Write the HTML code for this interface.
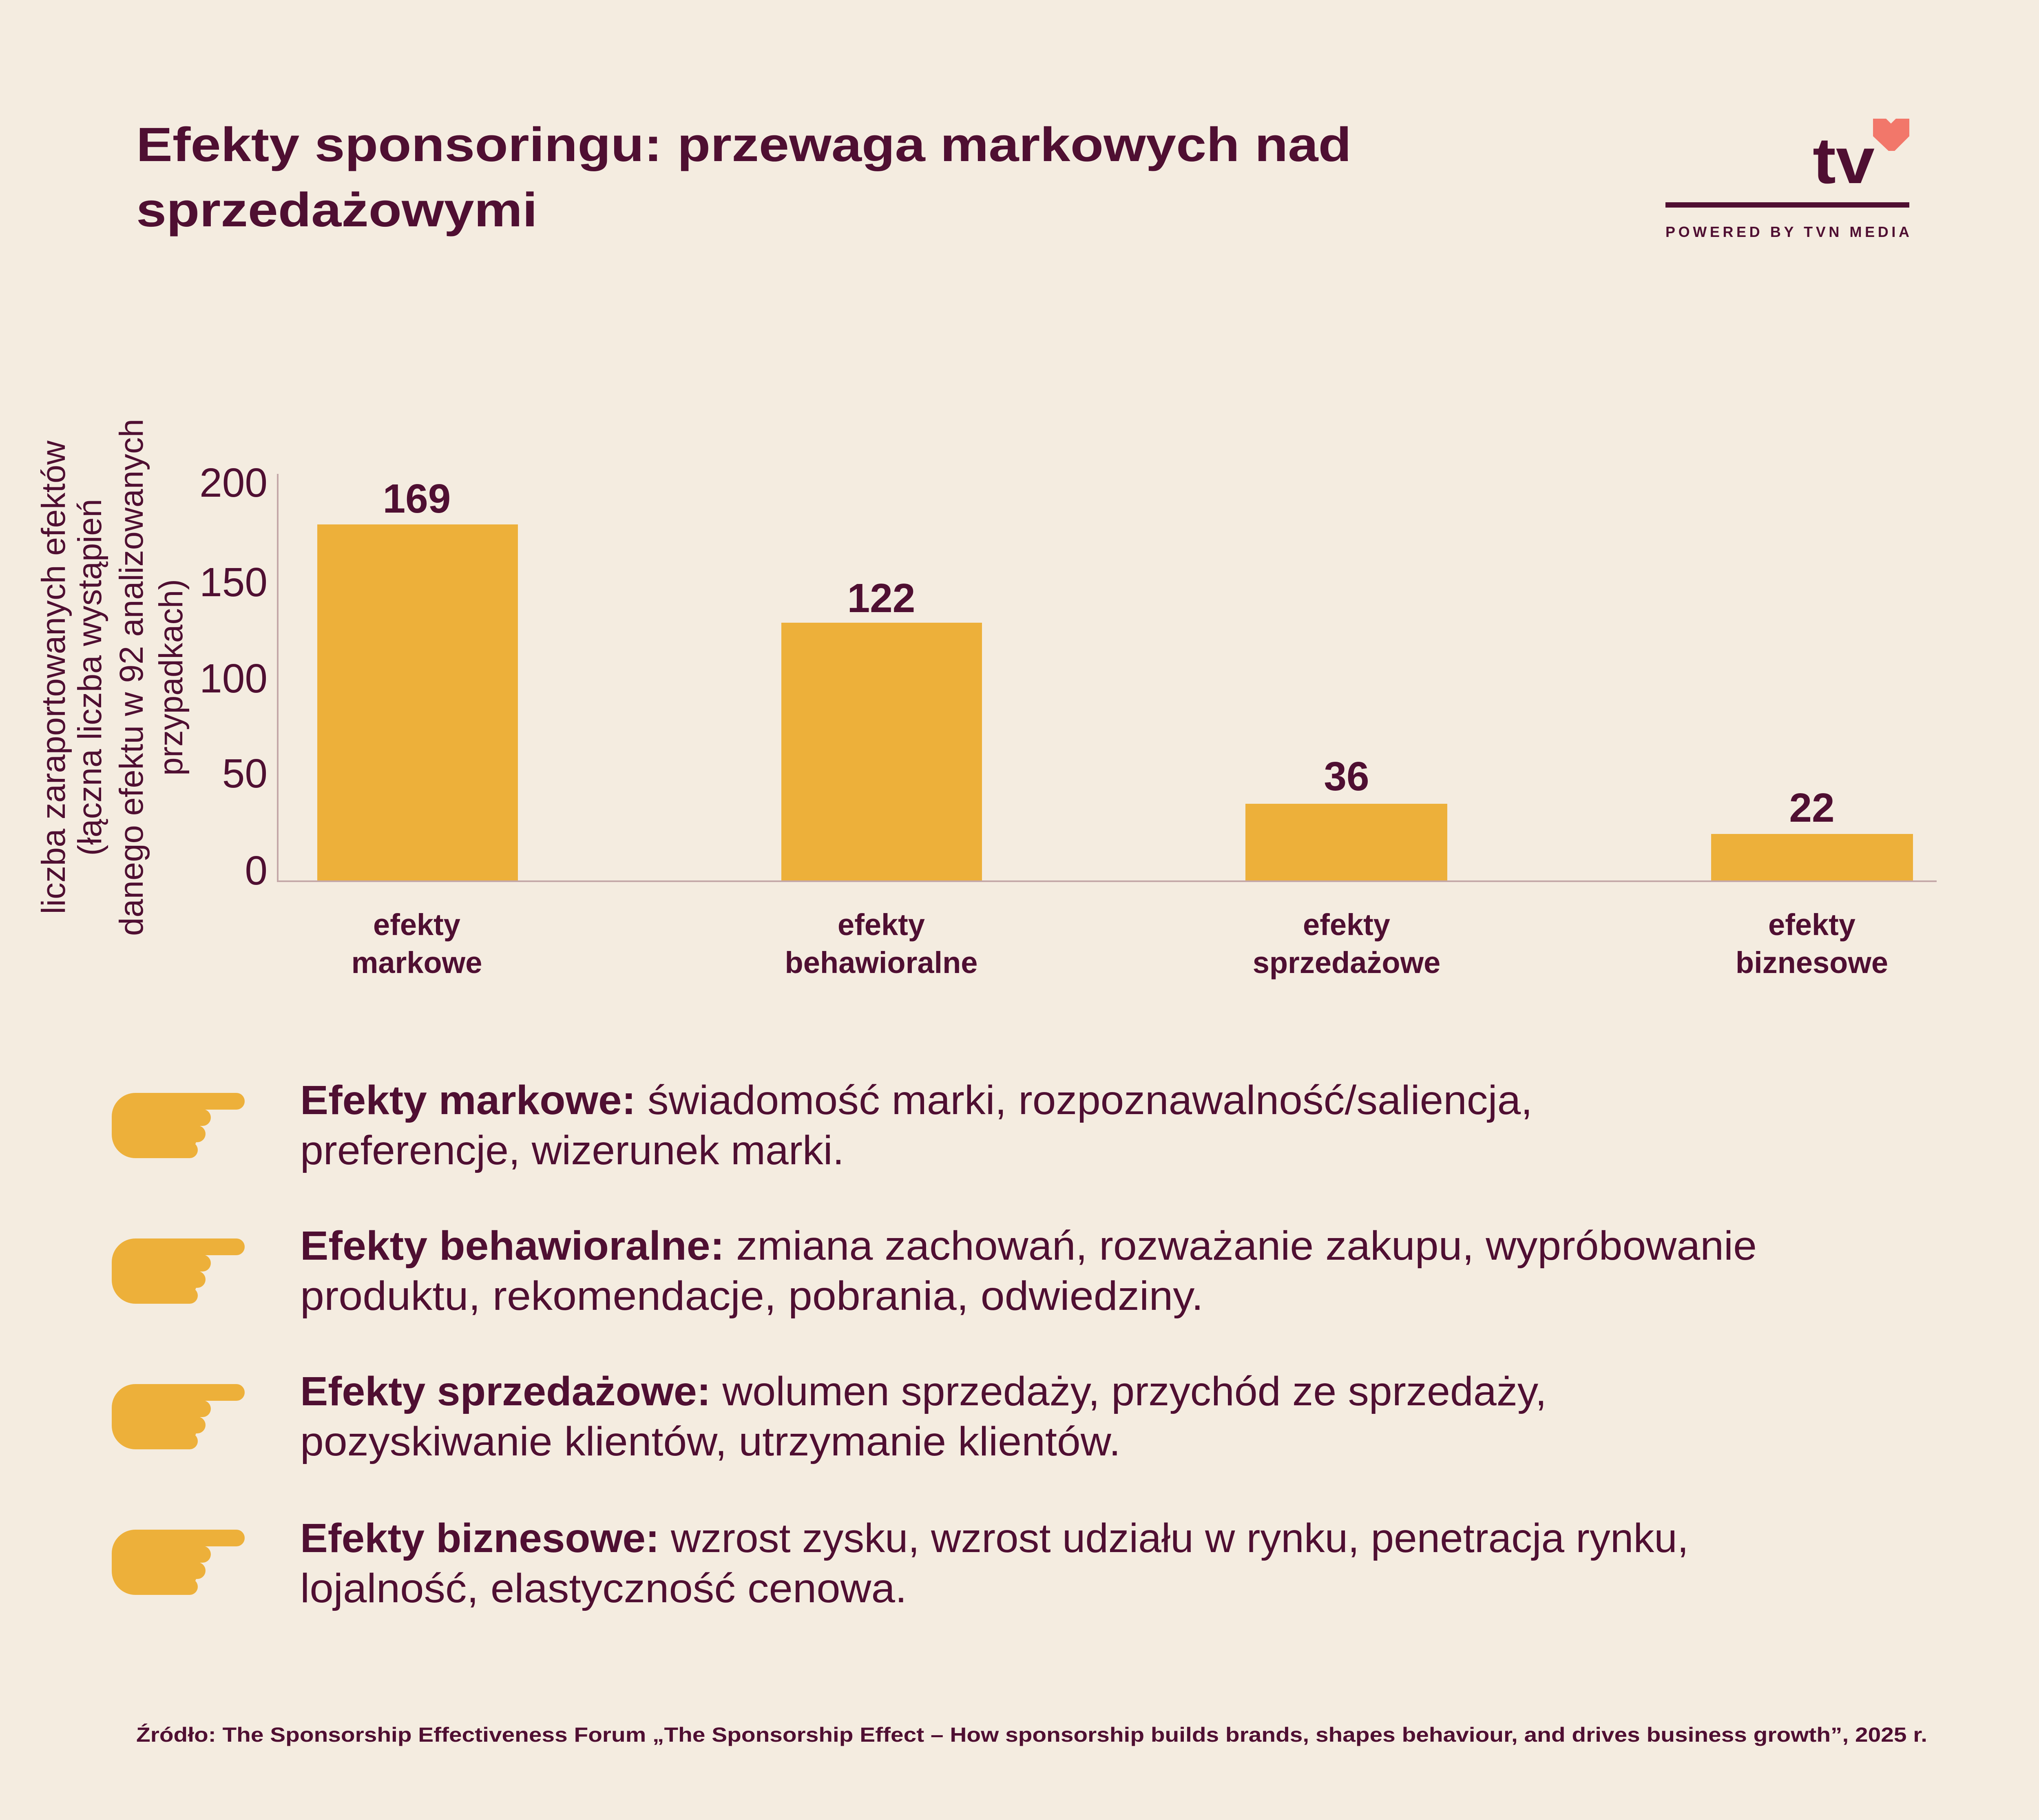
<!DOCTYPE html>
<html><head><meta charset="utf-8"><style>html,body{margin:0;padding:0;background:#f4ece0}svg{display:block}</style></head>
<body>
<svg width="5041" height="4463" viewBox="0 0 5041 4463" xmlns="http://www.w3.org/2000/svg" font-family="'Liberation Sans', sans-serif" fill="#4f0f32">
<rect width="5041" height="4463" fill="#f4ece0"/>
<!-- title -->
<text x="334" y="395" font-size="118" font-weight="bold" textLength="2980" lengthAdjust="spacingAndGlyphs">Efekty sponsoringu: przewaga markowych nad</text>
<text x="334" y="555" font-size="118" font-weight="bold" textLength="984" lengthAdjust="spacingAndGlyphs">sprzedażowymi</text>
<!-- logo -->
<text x="4445" y="449" font-size="160" font-weight="bold" textLength="152" lengthAdjust="spacingAndGlyphs">tv</text>
<polygon fill="#f2776a" points="4593,291 4625,291 4637,303 4649,291 4682,291 4682,334 4646,370 4631,370 4593,334"/>
<rect x="4084" y="496" width="598" height="13"/>
<text x="4084" y="581" font-size="36" font-weight="bold" textLength="598" lengthAdjust="spacing">POWERED BY TVN MEDIA</text>
<!-- y axis title -->
<g font-size="82" text-anchor="middle">
<text transform="translate(159,1661) rotate(-90)" textLength="1161" lengthAdjust="spacingAndGlyphs">liczba zaraportowanych efektów</text>
<text transform="translate(248,1661) rotate(-90)" textLength="875" lengthAdjust="spacingAndGlyphs">(łączna liczba wystąpień</text>
<text transform="translate(350,1661) rotate(-90)" textLength="1268" lengthAdjust="spacingAndGlyphs">danego efektu w 92 analizowanych</text>
<text transform="translate(447,1661) rotate(-90)" textLength="482" lengthAdjust="spacingAndGlyphs">przypadkach)</text>
</g>
<!-- ticks -->
<g font-size="100" text-anchor="end">
<text x="656" y="1218">200</text>
<text x="656" y="1462">150</text>
<text x="656" y="1698">100</text>
<text x="656" y="1931">50</text>
<text x="656" y="2169">0</text>
</g>
<!-- axes -->
<rect x="679" y="1162" width="4" height="1001" fill="#c4a8a8"/>
<rect x="679" y="2159" width="4070" height="4" fill="#c4a8a8"/>
<!-- bars -->
<g fill="#edb03a">
<rect x="778" y="1286" width="492" height="873"/>
<rect x="1916" y="1527" width="492" height="632"/>
<rect x="3054" y="1971" width="495" height="188"/>
<rect x="4196" y="2045" width="495" height="114"/>
</g>
<g font-size="100" font-weight="bold" text-anchor="middle">
<text x="1022" y="1257">169</text>
<text x="2161" y="1501">122</text>
<text x="3302" y="1938">36</text>
<text x="4443" y="2015">22</text>
</g>
<g font-size="74" font-weight="bold" text-anchor="middle">
<text x="1022" y="2293">efekty</text><text x="1022" y="2386">markowe</text>
<text x="2161" y="2293">efekty</text><text x="2161" y="2386">behawioralne</text>
<text x="3302" y="2293">efekty</text><text x="3302" y="2386">sprzedażowe</text>
<text x="4443" y="2293">efekty</text><text x="4443" y="2386">biznesowe</text>
</g>
<!-- hands -->
<defs>
<g id="hand" fill="#edb03a">
<rect x="0" y="0" width="210" height="160" rx="58"/>
<rect x="60" y="0" width="266" height="41" rx="20.5"/>
<rect x="100" y="40" width="143" height="41" rx="20.5"/>
<rect x="100" y="80" width="130" height="41" rx="20.5"/>
<rect x="100" y="120" width="111" height="40" rx="20"/>
</g>
</defs>
<use href="#hand" x="274" y="2680"/>
<use href="#hand" x="274" y="3037"/>
<use href="#hand" x="274" y="3394"/>
<use href="#hand" x="274" y="3751"/>
<!-- descriptions -->
<g font-size="100">
<text x="736" y="2732" textLength="3022" lengthAdjust="spacingAndGlyphs"><tspan font-weight="bold">Efekty markowe:</tspan> świadomość marki, rozpoznawalność/saliencja,</text>
<text x="736" y="2855" textLength="1334" lengthAdjust="spacingAndGlyphs">preferencje, wizerunek marki.</text>
<text x="736" y="3089" textLength="3572" lengthAdjust="spacingAndGlyphs"><tspan font-weight="bold">Efekty behawioralne:</tspan> zmiana zachowań, rozważanie zakupu, wypróbowanie</text>
<text x="736" y="3212" textLength="2215" lengthAdjust="spacingAndGlyphs">produktu, rekomendacje, pobrania, odwiedziny.</text>
<text x="736" y="3446" textLength="3057" lengthAdjust="spacingAndGlyphs"><tspan font-weight="bold">Efekty sprzedażowe:</tspan> wolumen sprzedaży, przychód ze sprzedaży,</text>
<text x="736" y="3569" textLength="2012" lengthAdjust="spacingAndGlyphs">pozyskiwanie klientów, utrzymanie klientów.</text>
<text x="736" y="3806" textLength="3405" lengthAdjust="spacingAndGlyphs"><tspan font-weight="bold">Efekty biznesowe:</tspan> wzrost zysku, wzrost udziału w rynku, penetracja rynku,</text>
<text x="736" y="3929" textLength="1488" lengthAdjust="spacingAndGlyphs">lojalność, elastyczność cenowa.</text>
</g>
<text x="334" y="4271" font-size="50" font-weight="bold" textLength="4392" lengthAdjust="spacingAndGlyphs">Źródło: The Sponsorship Effectiveness Forum „The Sponsorship Effect – How sponsorship builds brands, shapes behaviour, and drives business growth”, 2025 r.</text>
</svg>
</body></html>
